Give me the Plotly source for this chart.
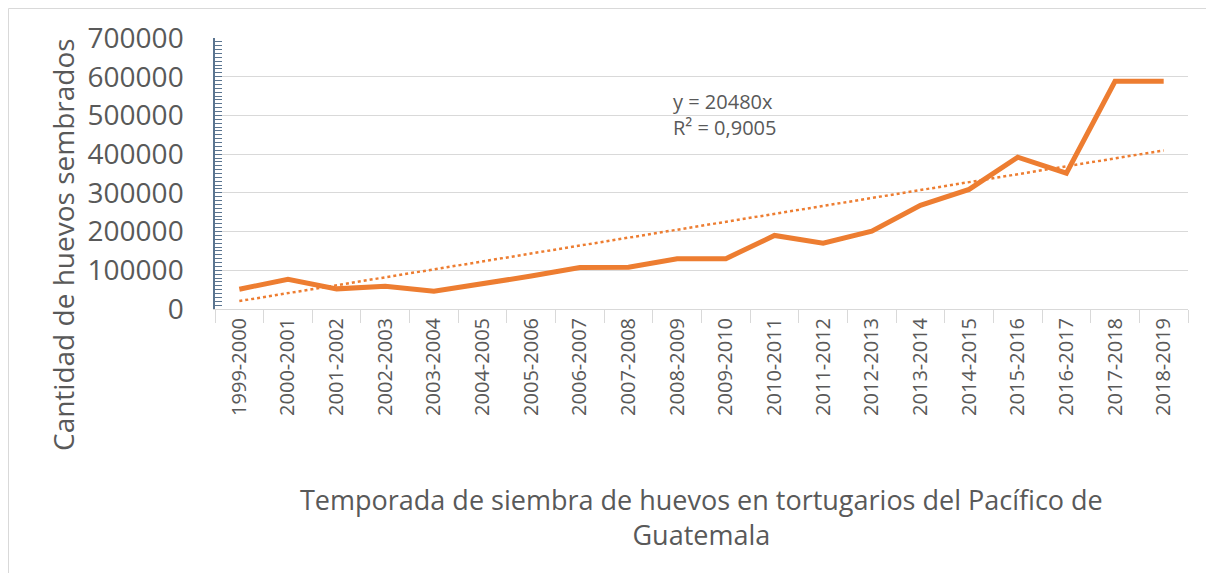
import plotly.graph_objects as go

seasons = ["1999-2000", "2000-2001", "2001-2002", "2002-2003", "2003-2004",
           "2004-2005", "2005-2006", "2006-2007", "2007-2008", "2008-2009",
           "2009-2010", "2010-2011", "2011-2012", "2012-2013", "2013-2014",
           "2014-2015", "2015-2016", "2016-2017", "2017-2018", "2018-2019"]
eggs = [51000, 77000, 52000, 59000, 46000, 64000, 85000, 107000, 108000, 130000,
        130000, 190000, 170000, 201000, 268000, 309000, 392000, 351000, 588000, 588000]
trend_slope = 20480
trend_label = ["y = 20480x", "R² = 0,9005"]
y_ticks = [0, 100000, 200000, 300000, 400000, 500000, 600000, 700000]

trend = [trend_slope * (i + 1) for i in range(len(seasons))]

# page body has an 8px margin; work in screen pixels and subtract it
OFF = 8
W, H = 1214 - 2 * OFF, 581 - 2 * OFF
L, R, T, B = 215 - OFF, 1188 - OFF, 38 - OFF, 309 - OFF

ORANGE = "#ED7D31"
GRAY = "#595959"
FONT = "Open Sans"

fig = go.Figure()
fig.add_trace(go.Scatter(x=seasons, y=eggs, mode="lines",
                         line=dict(color=ORANGE, width=5), showlegend=False))
fig.add_trace(go.Scatter(x=seasons, y=trend, mode="lines",
                         line=dict(color=ORANGE, width=2.5, dash="dot"), showlegend=False))

def px_x(p):
    return (p - OFF - L) / (R - L)

def px_y(p):
    return (B - (p - OFF)) / (B - T)

fig.add_shape(type="rect", xref="paper", yref="paper",
              x0=px_x(8.5), x1=px_x(1230), y0=px_y(620), y1=px_y(8.5),
              line=dict(color="#D9D9D9", width=1), layer="below")

fig.add_annotation(xref="paper", yref="paper", x=px_x(671), y=px_y(114),
                   xanchor="left", yanchor="middle", align="left", showarrow=False,
                   text="<br>".join(trend_label),
                   font=dict(family=FONT, size=20, color=GRAY))

fig.add_annotation(xref="paper", yref="paper", x=0.5, y=px_y(517),
                   xanchor="center", yanchor="middle", showarrow=False,
                   text="Temporada de siembra de huevos en tortugarios del Pacífico de<br>Guatemala",
                   font=dict(family=FONT, size=27, color=GRAY))

fig.add_annotation(xref="paper", yref="paper", x=px_x(63), y=px_y(245),
                   xanchor="center", yanchor="middle", showarrow=False, textangle=-90,
                   text="Cantidad de huevos sembrados",
                   font=dict(family=FONT, size=28, color=GRAY))

fig.update_layout(
    width=W, height=H,
    margin=dict(l=L, r=W - R, t=T, b=H - B, autoexpand=False),
    paper_bgcolor="white", plot_bgcolor="white",
    font=dict(family=FONT, color=GRAY),
    xaxis=dict(type="category", tickangle=-90, tickson="boundaries",
               ticks="outside", ticklen=13, tickcolor="#D9D9D9",
               showline=True, linecolor="#D9D9D9", linewidth=1,
               showgrid=False, tickfont=dict(family=FONT, size=20, color=GRAY),
               range=[-0.5, len(seasons) - 0.5]),
    yaxis=dict(range=[0, 700000], tickvals=y_ticks,
               ticktext=[str(v) for v in y_ticks],
               showgrid=True, gridcolor="#D9D9D9", gridwidth=1,
               showline=True, linecolor="#5B7590", linewidth=1.5,
               ticks="inside", ticklen=7, tickcolor="#5B7590",
               minor=dict(dtick=10000, ticks="inside", ticklen=7,
                          tickcolor="#5B7590", showgrid=False),
               zeroline=False, ticklabelstandoff=24,
               tickfont=dict(family=FONT, size=28, color=GRAY)),
)

fig.write_html("out.html")
